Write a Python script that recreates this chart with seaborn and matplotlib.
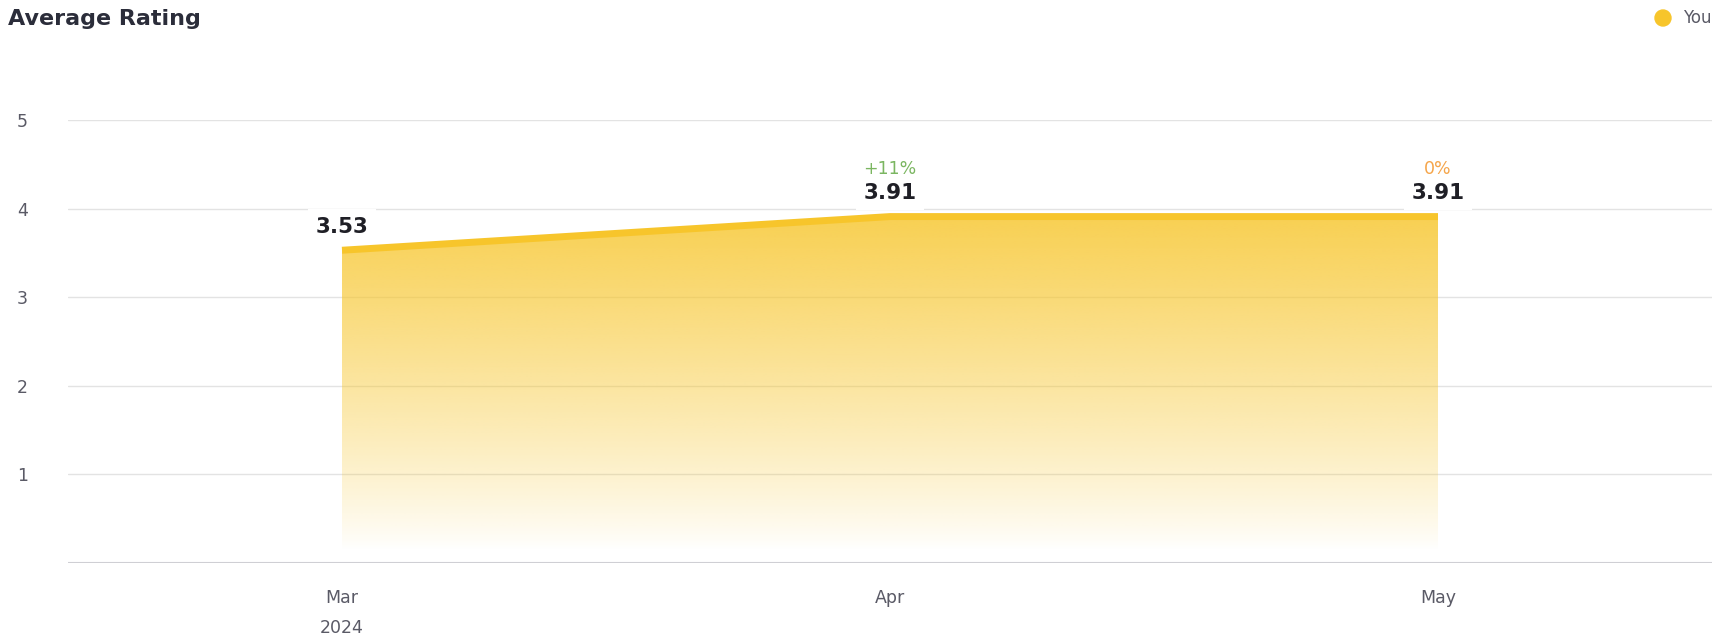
import numpy as np
import pandas as pd
import matplotlib
matplotlib.use("Agg")
import matplotlib.pyplot as plt
import seaborn as sns

# data
months = ["Mar", "Apr", "May"]
month_labels = ["Mar\n2024", "Apr", "May"]
rating = [3.53, 3.91, 3.91]
change = [None, "+11%", "0%"]
change_colors = [None, "#7bb661", "#f5a54a"]

df = pd.DataFrame({"month": months, "rating": rating})

sns.set_theme(style="white")
plt.rcParams["font.family"] = ["DejaVu Sans"]

fig = plt.figure(figsize=(17.21, 6.38), dpi=100)
ax = fig.add_axes([68 / 1721, 1 - 563 / 638, (1712 - 68) / 1721, (563 - 120) / 638])

line_col = "#f7c52b"
sns.lineplot(data=df, x="month", y="rating", ax=ax, color=line_col, linewidth=5,
             solid_capstyle="butt", zorder=4)

# gradient fill below the line
xs = np.arange(len(months))
poly = ax.fill_between(xs, df["rating"], 0, color="none", zorder=2)
ny = 400
yy = np.linspace(0, 5, ny)
alpha = np.clip((yy - 0.15) / (3.9 - 0.15), 0, 1) ** 0.85 * 0.82
img = np.zeros((ny, 2, 4))
img[..., 0] = 247 / 255
img[..., 1] = 198 / 255
img[..., 2] = 45 / 255
img[..., 3] = alpha[:, None]
im = ax.imshow(img, extent=[0, 2, 0, 5], origin="lower", aspect="auto", zorder=2,
               interpolation="bilinear")
path = poly.get_paths()[0]
im.set_clip_path(path, transform=ax.transData)

ax.set_xlim(-0.5, 2.5)
ax.set_ylim(0, 5)

# grid
ax.set_yticks([1, 2, 3, 4, 5])
for v in [1, 2, 3, 4, 5]:
    ax.axhline(v, color="#e3e3e3", linewidth=1, zorder=1)
ax.axhline(0, color="#cfcfd4", linewidth=1.5, zorder=1)
for s in ax.spines.values():
    s.set_visible(False)

ax.set_xticks(xs)
ax.set_xticklabels(month_labels, linespacing=1.85)
ax.tick_params(axis="x", length=0, pad=19, labelsize=12.5, labelcolor="#5a5a66")
ax.tick_params(axis="y", length=0, pad=29, labelsize=12.5, labelcolor="#5a5a66")
ax.set_xlabel("")
ax.set_ylabel("")

# value labels
for i, (v, c, cc) in enumerate(zip(rating, change, change_colors)):
    ax.annotate(f"{v:.2f}", (i, v), xytext=(0, 17), textcoords="offset points",
                ha="center", va="center", fontsize=15.5, color="#1f1f26", zorder=6,
                fontweight="bold",
                bbox=dict(boxstyle="square,pad=0.35", fc="white", ec="none"))
    if c:
        ax.annotate(c, (i, v), xytext=(0, 34), textcoords="offset points",
                    ha="center", va="center", fontsize=12.5, color=cc, zorder=6)

# title and legend
fig.text(8 / 1721, 1 - 19 / 638, "Average Rating", fontsize=16, fontweight="bold",
         color="#2b2d3a", ha="left", va="center")
fig.patches.append(matplotlib.patches.Ellipse((1663 / 1721, 1 - 18 / 638), 16 / 1721, 16 / 638,
                                              transform=fig.transFigure, color=line_col))
fig.text(1683 / 1721, 1 - 18 / 638, "You", fontsize=12, color="#5a5a66",
         ha="left", va="center")

fig.savefig("out.png", dpi=100)
